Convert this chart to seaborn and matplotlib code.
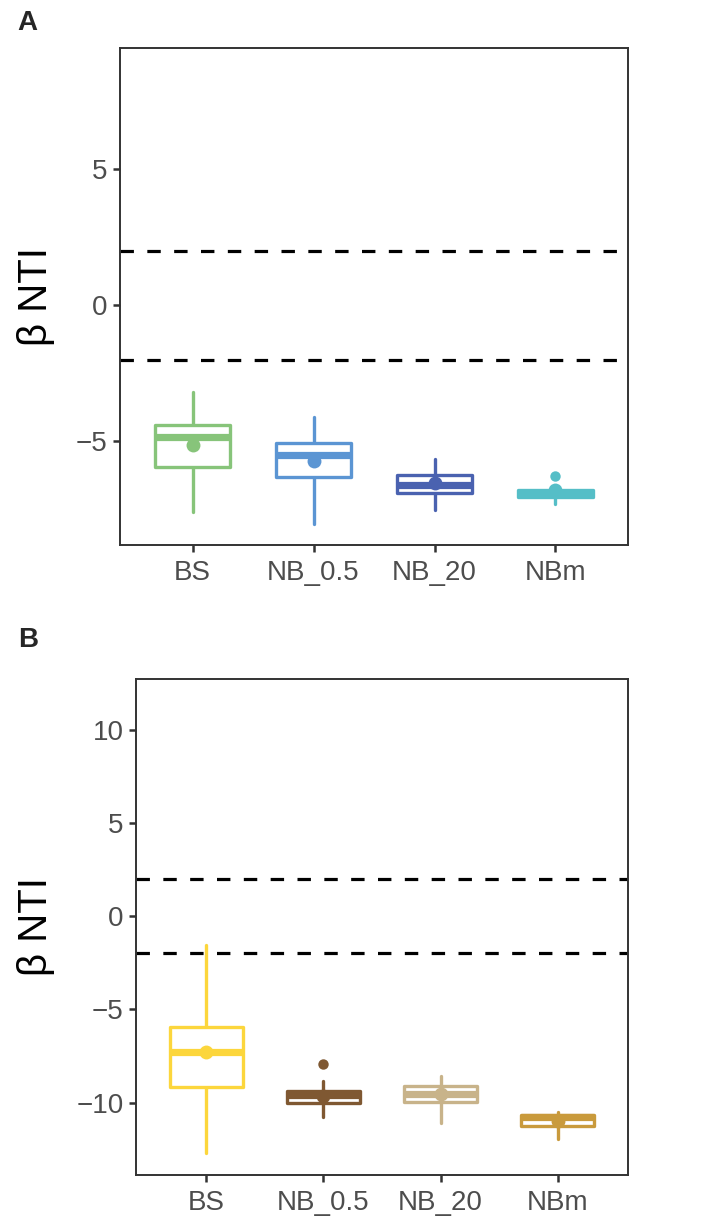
import matplotlib
matplotlib.use("Agg")
import matplotlib.pyplot as plt
import seaborn as sns

cats = ["BS", "NB_0.5", "NB_20", "NBm"]

# panel A
a_whislo = [-7.62, -8.05, -7.54, -7.32]
a_q1 = [-5.95, -6.33, -6.92, -7.05]
a_med = [-4.85, -5.51, -6.62, -6.92]
a_q3 = [-4.42, -5.07, -6.24, -6.79]
a_whishi = [-3.19, -4.10, -5.67, -6.79]
a_mean = [-5.15, -5.72, -6.53, -6.80]
a_out_cat = ["NBm"]
a_out_val = [-6.27]
a_colors = ["#87c47a", "#5b95d3", "#4a62b0", "#55bec7"]

# panel B
b_whislo = [-12.69, -10.80, -11.10, -11.95]
b_q1 = [-9.18, -10.05, -9.97, -11.25]
b_med = [-7.29, -9.61, -9.52, -10.78]
b_q3 = [-5.97, -9.38, -9.11, -10.65]
b_whishi = [-1.52, -8.87, -8.60, -10.52]
b_mean = [-7.30, -9.65, -9.52, -11.00]
b_out_cat = ["NB_0.5"]
b_out_val = [-7.94]
b_colors = ["#fcd63c", "#7f5832", "#c8b38a", "#c99a3c"]

thresholds = [2, -2]

sns.set_theme(style="white")
plt.rcParams["font.family"] = ["Liberation Sans", "DejaVu Sans"]
plt.rcParams["axes.unicode_minus"] = True

fig = plt.figure(figsize=(7.09, 12.32), dpi=100)
ax_a = fig.add_axes([0.1693, 0.5576, 0.7165, 0.4034])
ax_b = fig.add_axes([0.1918, 0.0463, 0.6940, 0.4026])


def draw_panel(ax, whislo, q1, med, q3, whishi, mean, out_cat, out_val, colors, ylim, yticks, label_x):
    pal = dict(zip(cats, colors))
    # mean points through seaborn's categorical axis
    sns.stripplot(x=cats, y=mean, hue=cats, palette=pal, order=cats, jitter=False,
                  size=10, linewidth=0, legend=False, zorder=5, ax=ax)
    sns.stripplot(x=out_cat, y=out_val, hue=out_cat, palette=pal, order=cats, jitter=False,
                  size=7.5, linewidth=0, legend=False, zorder=5, ax=ax)
    stats = []
    for i in range(len(cats)):
        stats.append(dict(whislo=whislo[i], q1=q1[i], med=med[i], q3=q3[i],
                          whishi=whishi[i], fliers=[]))
    bp = ax.bxp(stats, positions=range(len(cats)), widths=0.62, showcaps=False,
                patch_artist=True, showfliers=False, manage_ticks=False)
    for i, c in enumerate(colors):
        bp["boxes"][i].set(facecolor="white", edgecolor=c, linewidth=2.4, zorder=2,
                           joinstyle="round")
        bp["medians"][i].set(color=c, linewidth=5.2, solid_capstyle="butt", zorder=3)
        for w in bp["whiskers"][2 * i:2 * i + 2]:
            w.set(color=c, linewidth=2.4, zorder=1)
    for t in thresholds:
        ax.axhline(t, color="black", linewidth=2.3, dashes=(4.2, 4.2), zorder=0)
    ax.set_xlim(-0.6, len(cats) - 0.4)
    ax.set_ylim(*ylim)
    ax.set_yticks(yticks)
    ax.set_xticks(range(len(cats)))
    ax.set_xticklabels(cats)
    ax.set_xlabel("")
    ax.set_ylabel("β NTI", fontsize=29, color="black")
    ax.yaxis.set_label_coords(label_x, 0.5)
    ax.tick_params(axis="both", labelsize=20, labelcolor="#4d4d4d", color="#333333",
                   length=5, width=1.8, left=True, bottom=True)
    ax.tick_params(axis="x", pad=6)
    ax.tick_params(axis="y", pad=4)
    for s in ax.spines.values():
        s.set_color("#333333")
        s.set_linewidth(1.4)


draw_panel(ax_a, a_whislo, a_q1, a_med, a_q3, a_whishi, a_mean, a_out_cat, a_out_val,
           a_colors, (-8.82, 9.45), [-5, 0, 5], -0.128)
draw_panel(ax_b, b_whislo, b_q1, b_med, b_q3, b_whishi, b_mean, b_out_cat, b_out_val,
           b_colors, (-13.89, 12.74), [-10, -5, 0, 5, 10], -0.165)

fig.text(0.025, 0.992, "A", fontsize=20, fontweight="bold", va="top", ha="left")
fig.text(0.025, 0.491, "B", fontsize=20, fontweight="bold", va="top", ha="left")

fig.savefig("out.png", dpi=100)
